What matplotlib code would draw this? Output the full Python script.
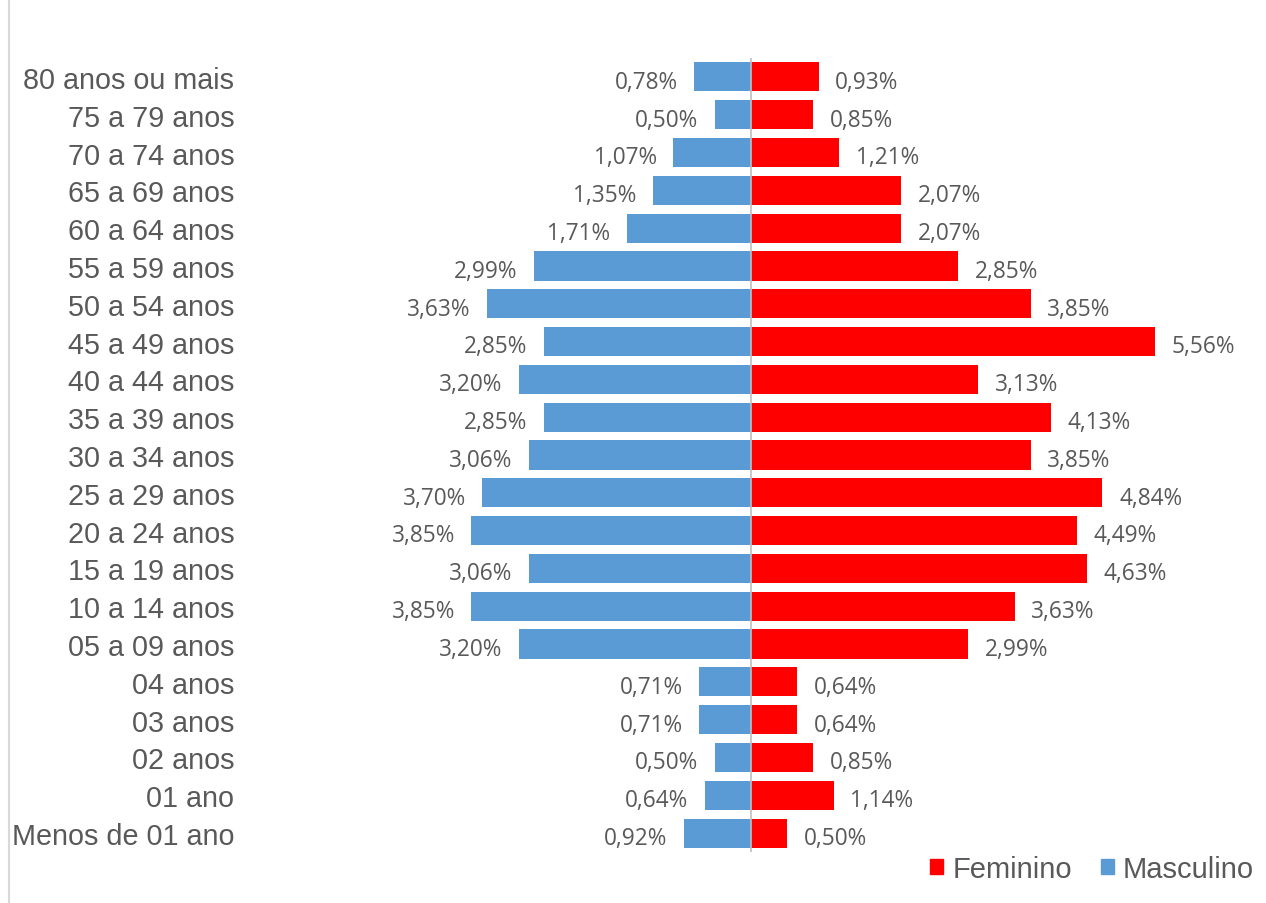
import matplotlib

matplotlib.use("Agg")

import matplotlib.pyplot as plt
from matplotlib.lines import Line2D
from matplotlib.patches import Patch

age_groups = [
    "80 anos ou mais", "75 a 79 anos", "70 a 74 anos", "65 a 69 anos",
    "60 a 64 anos", "55 a 59 anos", "50 a 54 anos", "45 a 49 anos",
    "40 a 44 anos", "35 a 39 anos", "30 a 34 anos", "25 a 29 anos",
    "20 a 24 anos", "15 a 19 anos", "10 a 14 anos", "05 a 09 anos",
    "04 anos", "03 anos", "02 anos", "01 ano", "Menos de 01 ano",
]
masculino = [0.78, 0.50, 1.07, 1.35, 1.71, 2.99, 3.63, 2.85, 3.20, 2.85, 3.06,
             3.70, 3.85, 3.06, 3.85, 3.20, 0.71, 0.71, 0.50, 0.64, 0.92]
feminino = [0.93, 0.85, 1.21, 2.07, 2.07, 2.85, 3.85, 5.56, 3.13, 4.13, 3.85,
            4.84, 4.49, 4.63, 3.63, 2.99, 0.64, 0.64, 0.85, 1.14, 0.50]

BLUE = "#5B9BD5"
RED = "#FF0000"
TEXT = "#595959"
LABEL_FONT = "Liberation Sans"
VALUE_FONT = "Open Sans"

W, H = 1266, 904
fig = plt.figure(figsize=(W / 100, H / 100), dpi=100)

# axes placed in pixels: center line at x=751, 72.6 px per percent
px_per_pct = 72.6
xmax = 7.0
left_px = 751 - xmax * px_per_pct
width_px = 2 * xmax * px_per_pct
top_px, bottom_px = 59, 853
ax = fig.add_axes([left_px / W, 1 - bottom_px / H, width_px / W, (bottom_px - top_px) / H])

n = len(age_groups)
ypos = [n - 1 - i for i in range(n)]
bar_h = 0.77

ax.barh(ypos, [-v for v in masculino], height=bar_h, color=BLUE, linewidth=0)
ax.barh(ypos, feminino, height=bar_h, color=RED, linewidth=0)
ax.axvline(0, color="#BFBFBF", linewidth=1.2, zorder=3)

for y, m, f in zip(ypos, masculino, feminino):
    ax.annotate(f"{m:.2f}%".replace(".", ","), (-m, y), xytext=(-12, -3.5),
                textcoords="offset points", ha="right", va="center",
                fontsize=16.3, color=TEXT, family=VALUE_FONT)
    ax.annotate(f"{f:.2f}%".replace(".", ","), (f, y), xytext=(12, -3.5),
                textcoords="offset points", ha="left", va="center",
                fontsize=16.3, color=TEXT, family=VALUE_FONT)

ax.set_xlim(-xmax, xmax)
ax.set_ylim(-0.5, n - 0.5)
ax.set_yticks(ypos)
ax.set_yticklabels(age_groups, fontsize=20.7, color=TEXT, family=LABEL_FONT)
ax.tick_params(axis="y", length=0, pad=6)
ax.set_xticks([])
for side in ax.spines.values():
    side.set_visible(False)

# thin frame line at the left edge of the picture
fig.add_artist(Line2D([8.5 / W, 8.5 / W], [0, 1], color="#D9D9D9", linewidth=1.5))

handles = [Patch(color=RED, label="Feminino"), Patch(color=BLUE, label="Masculino")]
fig.legend(handles=handles, loc="center right", bbox_to_anchor=(1254 / W, 1 - 870 / H),
           ncol=2, frameon=False, prop={"family": LABEL_FONT, "size": 21},
           labelcolor=TEXT, handlelength=0.45, handleheight=0.45, handletextpad=0.3,
           columnspacing=1.0, borderaxespad=0, borderpad=0)

fig.savefig("out.png", dpi=100)
